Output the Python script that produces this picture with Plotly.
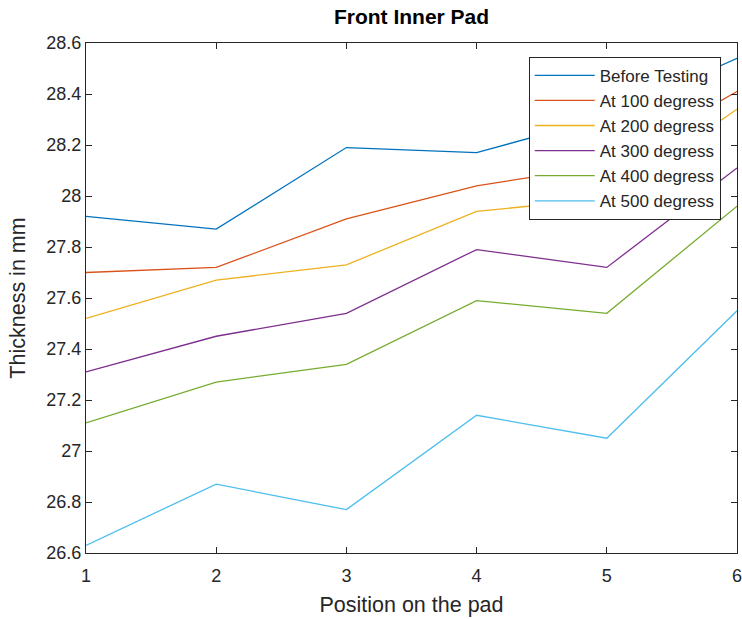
import plotly.graph_objects as go

# Thickness of the front inner pad at each measuring position
positions = [1, 2, 3, 4, 5, 6]
before_testing = [27.92, 27.87, 28.19, 28.17, 28.31, 28.54]
at_100 = [27.70, 27.72, 27.91, 28.04, 28.12, 28.41]
at_200 = [27.52, 27.67, 27.73, 27.94, 27.99, 28.34]
at_300 = [27.31, 27.45, 27.54, 27.79, 27.72, 28.11]
at_400 = [27.11, 27.27, 27.34, 27.59, 27.54, 27.96]
at_500 = [26.63, 26.87, 26.77, 27.14, 27.05, 27.55]

series_names = ["Before Testing", "At 100 degress", "At 200 degress",
                "At 300 degress", "At 400 degress", "At 500 degress"]
series_values = [before_testing, at_100, at_200, at_300, at_400, at_500]
series_colors = ["#0072BD", "#D95319", "#EDB120", "#7E2F8E", "#77AC30", "#4DBEEE"]

y_ticks = [26.6, 26.8, 27.0, 27.2, 27.4, 27.6, 27.8, 28.0, 28.2, 28.4, 28.6]
y_tick_labels = ["26.6", "26.8", "27", "27.2", "27.4", "27.6", "27.8", "28", "28.2", "28.4", "28.6"]

FONT = "Liberation Sans, Arial, Helvetica, sans-serif"
TXT = "#262626"

fig = go.Figure()
for name, vals, col in zip(series_names, series_values, series_colors):
    fig.add_trace(go.Scatter(x=positions, y=vals, name=name, mode="lines",
                             line=dict(color=col, width=1.3)))

axis_common = dict(showline=True, linecolor=TXT, linewidth=1, mirror="ticks",
                   ticks="inside", ticklen=6, tickcolor=TXT, tickwidth=1,
                   showgrid=False, zeroline=False, ticklabeloverflow="allow",
                   automargin=False,
                   tickfont=dict(family=FONT, size=18, color=TXT))

fig.update_layout(
    width=742, height=619,
    margin=dict(l=86, r=5, t=43, b=66, autoexpand=False),
    paper_bgcolor="white", plot_bgcolor="white",
    title=dict(text="<b>Front Inner Pad</b>", x=0.5, xref="paper", xanchor="center",
               y=1 - 17 / 619, yanchor="middle",
               font=dict(family=FONT, size=21, color="black")),
    xaxis=dict(range=[1, 6], tickvals=positions, ticktext=[str(p) for p in positions],
               ticklabelstandoff=6,
               title=dict(text="Position on the pad", standoff=12,
                          font=dict(family=FONT, size=21.5, color=TXT)),
               **axis_common),
    yaxis=dict(range=[26.6, 28.6], tickvals=y_ticks, ticktext=y_tick_labels,
               title=dict(text="Thickness in mm", standoff=14,
                          font=dict(family=FONT, size=21.5, color=TXT)),
               **axis_common),
    legend=dict(x=0.975, xanchor="right", y=0.973, yanchor="top",
                bgcolor="white", bordercolor=TXT, borderwidth=1,
                font=dict(family=FONT, size=17, color=TXT),
                itemwidth=60, tracegroupgap=0),
    showlegend=True,
)

fig.write_html("out.html")
